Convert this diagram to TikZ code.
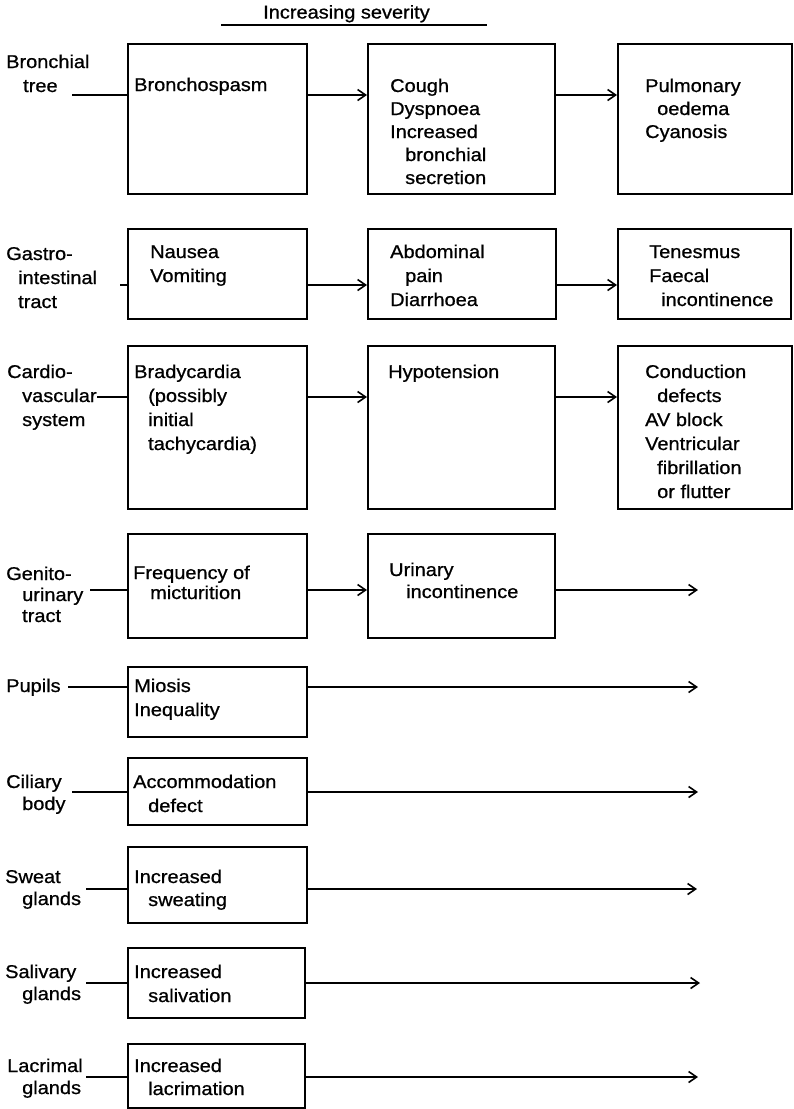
\documentclass[tikz,border=0pt]{standalone}
\usepackage{fontspec}
\setmainfont{Liberation Sans}[FakeStretch=1.08,FakeBold=0.8]
\usetikzlibrary{arrows.meta}
\newcommand\myind[1]{\hspace*{#1pt}}
\newcommand\ml[2]{{\fontsize{18.5}{#1}\selectfont\begin{tabular}[t]{@{}l@{}}#2\end{tabular}}}
\begin{document}
\begin{tikzpicture}[x=1pt,y=-1pt,
  box/.style={draw, line width=1.8pt, anchor=north west, inner sep=0pt},
  txt/.style={anchor=base west, inner sep=0pt, font=\fontsize{18.5}{24}\selectfont},
  conn/.style={line width=1.5pt},
  arr/.style={line width=1.5pt, -{Straight Barb[length=8pt,width=11pt,line width=1.6pt]}}]
\useasboundingbox (0,0) rectangle (794,1109);

% heading
\node[txt, anchor=base] (head) at (346.5,18.5) {Increasing severity};
\coordinate (hl) at (221,25);
\coordinate (hr) at (487,25);
\draw[line width=1.4pt] (hl) -- (hr);

% ---------- Row 1: Bronchial tree
\node[box, minimum width=179pt, minimum height=150pt] (b11) at (127,43) {};
\node[box, minimum width=187pt, minimum height=150pt] (b12) at (367,43) {};
\node[box, minimum width=174pt, minimum height=150pt] (b13) at (617,43) {};
\node[txt] (l1) at (6,68) {\ml{24}{Bronchial\\\myind{17}tree}};
\node[txt] (t11) at (134,91) {Bronchospasm};
\node[txt] (t12) at (390,92) {\ml{23}{Cough\\Dyspnoea\\Increased\\\myind{15}bronchial\\\myind{15}secretion}};
\node[txt] (t13) at (645,92) {\ml{23}{Pulmonary\\\myind{12}oedema\\Cyanosis}};
\coordinate (r1) at (72,95);
\draw[conn] (r1) -- (r1 -| b11.west);
\draw[arr] (b11.east |- r1) -- (b12.west |- r1);
\draw[arr] (b12.east |- r1) -- (b13.west |- r1);

% ---------- Row 2: Gastro-intestinal tract
\node[box, minimum width=179pt, minimum height=90pt] (b21) at (127,228) {};
\node[box, minimum width=188pt, minimum height=90pt] (b22) at (367,228) {};
\node[box, minimum width=173pt, minimum height=90pt] (b23) at (617,228) {};
\node[txt] (l2) at (6,260) {\ml{24}{Gastro-\\\myind{12}intestinal\\\myind{12}tract}};
\node[txt] (t21) at (150,258) {\ml{24}{Nausea\\Vomiting}};
\node[txt] (t22) at (390,258) {\ml{24}{Abdominal\\\myind{15}pain\\Diarrhoea}};
\node[txt] (t23) at (649,258) {\ml{24}{Tenesmus\\Faecal\\\myind{12}incontinence}};
\coordinate (r2) at (120,285);
\draw[conn] (r2) -- (r2 -| b21.west);
\draw[arr] (b21.east |- r2) -- (b22.west |- r2);
\draw[arr] (b22.east |- r2) -- (b23.west |- r2);

% ---------- Row 3: Cardiovascular system
\node[box, minimum width=179pt, minimum height=163pt] (b31) at (127,345) {};
\node[box, minimum width=187pt, minimum height=163pt] (b32) at (367,345) {};
\node[box, minimum width=174pt, minimum height=163pt] (b33) at (617,345) {};
\node[txt] (l3) at (7,378) {\ml{24}{Cardio-\\\myind{15}vascular\\\myind{15}system}};
\node[txt] (t31) at (134,378) {\ml{24}{Bradycardia\\\myind{14}(possibly\\\myind{14}initial\\\myind{14}tachycardia)}};
\node[txt] (t32) at (388,378) {Hypotension};
\node[txt] (t33) at (645,378) {\ml{24}{Conduction\\\myind{12}defects\\AV block\\Ventricular\\\myind{12}fibrillation\\\myind{12}or flutter}};
\coordinate (r3) at (97,397);
\draw[conn] (r3) -- (r3 -| b31.west);
\draw[arr] (b31.east |- r3) -- (b32.west |- r3);
\draw[arr] (b32.east |- r3) -- (b33.west |- r3);

% ---------- Row 4: Genito-urinary tract
\node[box, minimum width=179pt, minimum height=104pt] (b41) at (127,533) {};
\node[box, minimum width=187pt, minimum height=104pt] (b42) at (367,533) {};
\node[txt] (l4) at (6,580) {\ml{21}{Genito-\\\myind{16}urinary\\\myind{16}tract}};
\node[txt] (t41) at (133,579) {\ml{20}{Frequency of\\\myind{17}micturition}};
\node[txt] (t42) at (389,576) {\ml{22}{Urinary\\\myind{17}incontinence}};
\coordinate (r4) at (90,590);
\coordinate (e4) at (698,590);
\draw[conn] (r4) -- (r4 -| b41.west);
\draw[arr] (b41.east |- r4) -- (b42.west |- r4);
\draw[arr] (b42.east |- r4) -- (e4);

% ---------- Row 5: Pupils
\node[box, minimum width=179pt, minimum height=70pt] (b5) at (127,666) {};
\node[txt] (l5) at (6,692) {Pupils};
\node[txt] (t5) at (134,692) {\ml{24}{Miosis\\Inequality}};
\coordinate (r5) at (68,687);
\coordinate (e5) at (698,687);
\draw[conn] (r5) -- (r5 -| b5.west);
\draw[arr] (b5.east |- r5) -- (e5);

% ---------- Row 6: Ciliary body
\node[box, minimum width=179pt, minimum height=67pt] (b6) at (127,757) {};
\node[txt] (l6) at (6,788) {\ml{22}{Ciliary\\\myind{16}body}};
\node[txt] (t6) at (133,788) {\ml{24}{Accommodation\\\myind{15}defect}};
\coordinate (r6) at (72,792);
\coordinate (e6) at (698,792);
\draw[conn] (r6) -- (r6 -| b6.west);
\draw[arr] (b6.east |- r6) -- (e6);

% ---------- Row 7: Sweat glands
\node[box, minimum width=179pt, minimum height=76pt] (b7) at (127,846) {};
\node[txt] (l7) at (5,883) {\ml{22}{Sweat\\\myind{17}glands}};
\node[txt] (t7) at (134,883) {\ml{23}{Increased\\\myind{14}sweating}};
\coordinate (r7) at (86,889);
\coordinate (e7) at (697,889);
\draw[conn] (r7) -- (r7 -| b7.west);
\draw[arr] (b7.east |- r7) -- (e7);

% ---------- Row 8: Salivary glands
\node[box, minimum width=177pt, minimum height=70pt] (b8) at (127,947) {};
\node[txt] (l8) at (5,978) {\ml{22}{Salivary\\\myind{17}glands}};
\node[txt] (t8) at (134,978) {\ml{24}{Increased\\\myind{14}salivation}};
\coordinate (r8) at (86,983);
\coordinate (e8) at (700,983);
\draw[conn] (r8) -- (r8 -| b8.west);
\draw[arr] (b8.east |- r8) -- (e8);

% ---------- Row 9: Lacrimal glands
\node[box, minimum width=177pt, minimum height=64pt] (b9) at (127,1043) {};
\node[txt] (l9) at (7,1072) {\ml{22}{Lacrimal\\\myind{15}glands}};
\node[txt] (t9) at (134,1072) {\ml{23}{Increased\\\myind{14}lacrimation}};
\coordinate (r9) at (86,1077);
\coordinate (e9) at (698,1077);
\draw[conn] (r9) -- (r9 -| b9.west);
\draw[arr] (b9.east |- r9) -- (e9);
\end{tikzpicture}
\end{document}
